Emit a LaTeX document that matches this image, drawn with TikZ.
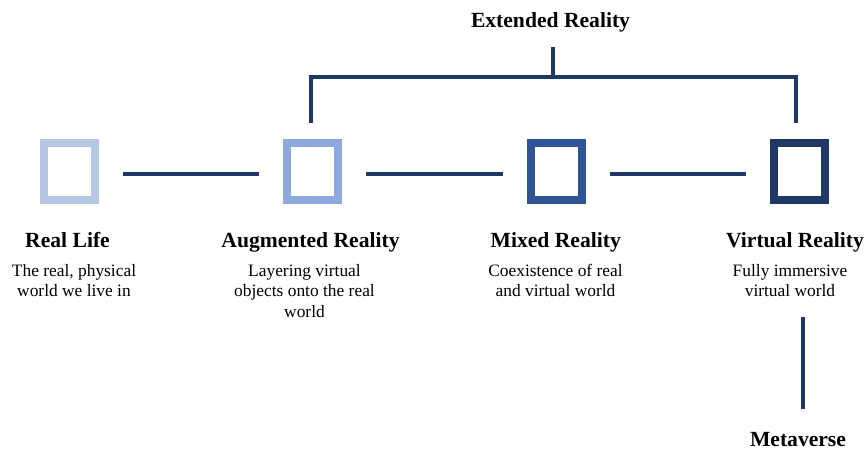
\documentclass[tikz,border=0pt]{standalone}
\usepackage{fontspec}
\setmainfont{Liberation Serif}
\definecolor{stageA}{HTML}{B4C7E7}
\definecolor{stageB}{HTML}{8EA9DB}
\definecolor{stageC}{HTML}{2F5597}
\definecolor{stageD}{HTML}{203864}
\definecolor{navy}{HTML}{203864}
\begin{document}
\begin{tikzpicture}[x=1pt,y=-1pt,
  stage/.style={draw, line width=8pt, minimum width=51pt, minimum height=57pt,
    inner sep=0pt, fill=white},
  title/.style={font=\fontsize{21.6}{24}\selectfont\bfseries, anchor=base, inner sep=0pt},
  % base anchor of a multi-line description sits on its last line
  desc/.style={font=\fontsize{17.4}{20.7}\selectfont, align=center, anchor=base, inner sep=0pt},
  link/.style={draw=navy, line width=4.6pt, line join=miter}]
\useasboundingbox (0,0) rectangle (867,451);

% the four stages
\node[stage, draw=stageA] (rl) at (69.5,171.5) {};
\node[stage, draw=stageB] (ar) at (312.5,171.5) {};
\node[stage, draw=stageC] (mr) at (556,171.5) {};
\node[stage, draw=stageD] (vr) at (799,171.5) {};

% links between neighbouring stages
\draw[link, shorten <=24pt, shorten >=24pt] ([yshift=-2.5pt]rl.east) -- ([yshift=-2.5pt]ar.west);
\draw[link, shorten <=24pt, shorten >=24pt] ([yshift=-2.5pt]ar.east) -- ([yshift=-2.5pt]mr.west);
\draw[link, shorten <=24pt, shorten >=24pt] ([yshift=-2.5pt]mr.east) -- ([yshift=-2.5pt]vr.west);

% bracket grouping the extended reality stages
\node[title] (xr) at (550.5,27) {Extended Reality};
\coordinate (brTop) at (553,47);
\coordinate (brMid) at (553,77);
\coordinate (brL) at (311,123);
\coordinate (brR) at (796,123);
\draw[link] (brL) |- (brMid) -| (brR);
\draw[link] (brTop) -- (brMid);

% stage titles
\node[title] (rlT) at (67.5,247) {Real Life};
\node[title] (arT) at (310.5,247) {Augmented Reality};
\node[title] (mrT) at (555.7,247) {Mixed Reality};
\node[title] (vrT) at (795,247) {Virtual Reality};

% stage descriptions
\node[desc] (rlD) at (74,296.7) {The real, physical\\world we live in};
\node[desc] (arD) at (304.5,317.4) {Layering virtual\\objects onto the real\\world};
\node[desc] (mrD) at (555.5,296.7) {Coexistence of real\\and virtual world};
\node[desc] (vrD) at (790,296.7) {Fully immersive\\virtual world};

% virtual reality leads on to the metaverse
\coordinate (mvTop) at (803,317);
\coordinate (mvBot) at (803,409);
\draw[link] (mvTop) -- (mvBot);
\node[title] (mv) at (798,446) {Metaverse};
\end{tikzpicture}
\end{document}
